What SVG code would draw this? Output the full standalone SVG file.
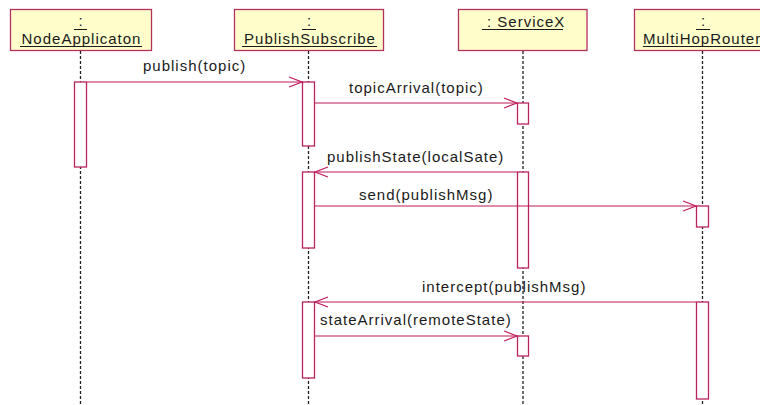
<svg xmlns="http://www.w3.org/2000/svg" width="760" height="405" viewBox="0 0 760 405">
<style>
text{font-family:"Liberation Sans",Arial,sans-serif;font-size:15px;fill:#1a1a1a;letter-spacing:1px}
.c{text-anchor:middle}
.hdr{fill:#ffffcc;stroke:#b3305f;stroke-width:1.3}
.ul{stroke:#1a1a1a;stroke-width:1}
.life{stroke:#222;stroke-width:1.3;stroke-dasharray:3 2;fill:none}
.act{fill:#fff;stroke:#b8245e;stroke-width:1.3}
.msg{stroke:#c0185a;stroke-width:1.2;fill:none}
</style>
<defs>
<marker id="open" markerWidth="16" markerHeight="12" refX="14" refY="6" orient="auto" markerUnits="userSpaceOnUse">
<path d="M1,1 L14,6 L1,11" fill="none" stroke="#c0185a" stroke-width="1.2"/>
</marker>
</defs>
<rect width="760" height="405" fill="#fff"/>
<g id="NodeApplicaton">
<rect class="hdr" x="10.5" y="9.5" width="141" height="41"/>
<text class="c" x="81" y="26">:</text>
<line class="ul" x1="74" y1="29.5" x2="87" y2="29.5"/>
<text class="c" x="81.5" y="44">NodeApplicaton</text>
<line class="ul" x1="20" y1="46.5" x2="142" y2="46.5"/>
<line class="life" x1="80.5" y1="51" x2="80.5" y2="405"/>
<rect class="act" x="74.5" y="82" width="12" height="85"/>
</g>
<g id="PublishSubscribe">
<rect class="hdr" x="234.5" y="9.5" width="149" height="41"/>
<text class="c" x="309.5" y="26">:</text>
<line class="ul" x1="302" y1="29.5" x2="316" y2="29.5"/>
<text class="c" x="310" y="44">PublishSubscribe</text>
<line class="ul" x1="242" y1="46.5" x2="377" y2="46.5"/>
<line class="life" x1="308.5" y1="51" x2="308.5" y2="405"/>
<rect class="act" x="302.5" y="82" width="12" height="64"/>
<rect class="act" x="302.5" y="172" width="12" height="76"/>
<rect class="act" x="302.5" y="302" width="12" height="76"/>
</g>
<g id="ServiceX">
<rect class="hdr" x="458.5" y="9.5" width="128.5" height="41"/>
<text x="487" y="27">: ServiceX</text>
<line class="ul" x1="482" y1="29.5" x2="563" y2="29.5"/>
<line class="life" x1="523" y1="51" x2="523" y2="405"/>
<rect class="act" x="517.5" y="103" width="11" height="21"/>
<rect class="act" x="517.5" y="172" width="11" height="96"/>
<rect class="act" x="517.5" y="336" width="11" height="20"/>
</g>
<g id="MultiHopRouter">
<rect class="hdr" x="634.5" y="9.5" width="140" height="41"/>
<text class="c" x="703.5" y="26">:</text>
<line class="ul" x1="696" y1="29.5" x2="710" y2="29.5"/>
<text x="643" y="44">MultiHopRouter</text>
<line class="ul" x1="643" y1="46.5" x2="760" y2="46.5"/>
<line class="life" x1="702.5" y1="51" x2="702.5" y2="405"/>
<rect class="act" x="696.5" y="206" width="12" height="21"/>
<rect class="act" x="696.5" y="302" width="12" height="97"/>
</g>
<g id="connectors">
<line class="msg" x1="87" y1="82" x2="302" y2="82" marker-end="url(#open)"/>
<text x="143" y="71">publish(topic)</text>
<line class="msg" x1="315" y1="103" x2="517" y2="103" marker-end="url(#open)"/>
<text x="349" y="93">topicArrival(topic)</text>
<line class="msg" x1="517" y1="172" x2="315" y2="172" marker-end="url(#open)"/>
<text x="327" y="162">publishState(localSate)</text>
<line class="msg" x1="315" y1="206" x2="696" y2="206" marker-end="url(#open)"/>
<text x="359" y="200">send(publishMsg)</text>
<line class="msg" x1="696" y1="302" x2="315" y2="302" marker-end="url(#open)"/>
<text x="422" y="292">intercept(publishMsg)</text>
<line class="msg" x1="315" y1="336" x2="517" y2="336" marker-end="url(#open)"/>
<text x="320" y="325">stateArrival(remoteState)</text>
</g>
</svg>
